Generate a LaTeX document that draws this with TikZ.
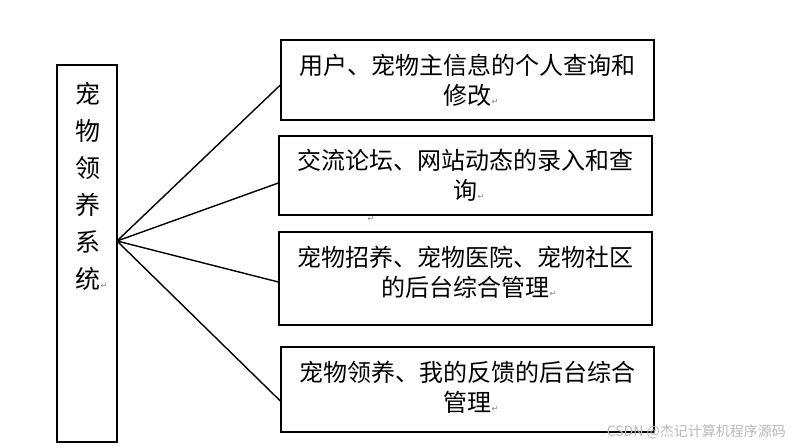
\documentclass[tikz,border=0pt]{standalone}
\usepackage{fontspec}
\setmainfont{Noto Sans CJK SC}
\newfontfamily\cjk{Noto Sans CJK SC}
\newfontfamily\symfont{DejaVu Sans}
\newcommand{\parmark}{{\symfont\fontsize{8}{8}\selectfont\color{gray}↵}}
\begin{document}
\begin{tikzpicture}[x=1pt,y=-1pt,
  box/.style={draw=black,line width=1.3pt,minimum width=373pt,inner sep=0pt},
  boxtext/.style={align=center,font=\cjk\fontsize{24}{30}\selectfont,inner sep=0pt},
  conn/.style={draw=black,line width=1.4pt}]
\useasboundingbox (0,0) rectangle (791,446);
\fill[white] (0,0) rectangle (791,446);
% left box
\node[draw=black,line width=1.3pt,minimum width=60pt,minimum height=377pt,inner sep=0pt] (left) at (87,253.5) {};
\node[align=center,font=\cjk\fontsize{25}{37}\selectfont,inner sep=0pt] (lefttext) at (88,186)
  {宠\\物\\领\\养\\系\\统\rlap{\parmark}};
% right boxes
\node[box,minimum height=80pt] (b1) at (467.5,80) {};
\node[boxtext] (t1) at (467.5,80) {用户、宠物主信息的个人查询和\\修改\rlap{\parmark}};
\node[box,minimum height=79pt] (b2) at (465.5,175.5) {};
\node[boxtext] (t2) at (465.5,175.5) {交流论坛、网站动态的录入和查\\询\rlap{\parmark}};
\node[box,minimum height=93pt] (b3) at (465.5,278.5) {};
\node[boxtext] (t3) at (465.5,272.5) {宠物招养、宠物医院、宠物社区\\的后台综合管理\rlap{\parmark}};
\node[box,minimum height=85pt] (b4) at (467.5,389.5) {};
\node[boxtext] (t4) at (467.5,387.5) {宠物领养、我的反馈的后台综合\\管理\rlap{\parmark}};
\node[inner sep=0pt] (stray) at (371,219) {\parmark};
% connectors
\coordinate (hub) at (117,241);
\draw[conn] (hub) -- ([yshift=-5pt]b1.west);
\draw[conn] (hub) -- ([yshift=-7.5pt]b2.west);
\draw[conn] (hub) -- ([yshift=-3.5pt]b3.west);
\draw[conn] (hub) -- ([yshift=-11.5pt]b4.west);
% watermark
\node[anchor=east,inner sep=0pt,text=gray!55,font=\cjk\fontsize{14}{14}\selectfont] (wm) at (786,432) {CSDN @杰记计算机程序源码};
\end{tikzpicture}
\end{document}
